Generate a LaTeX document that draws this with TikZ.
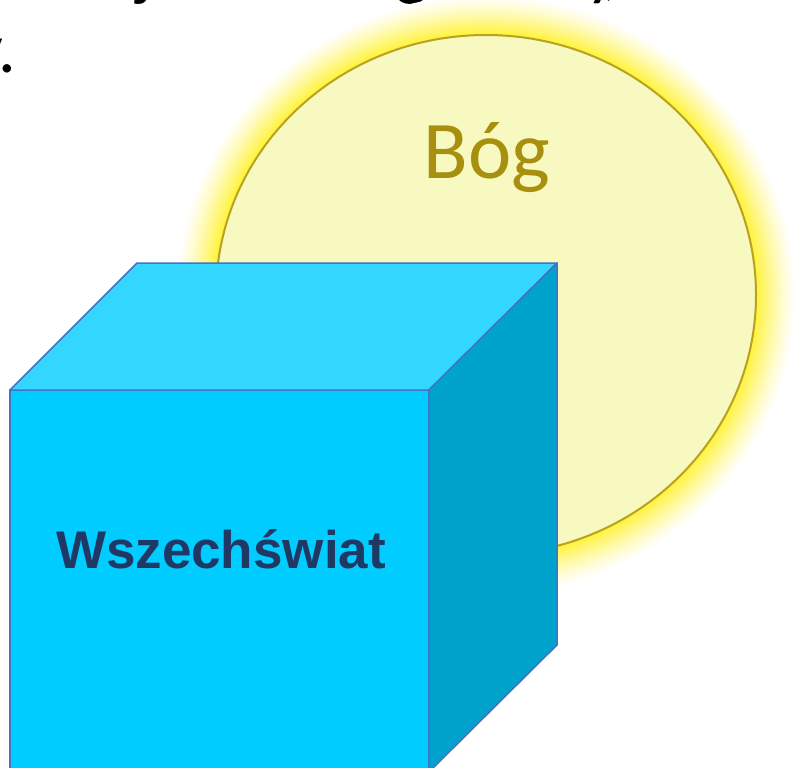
\documentclass[tikz,border=0pt]{standalone}
\usepackage{fontspec}
\setmainfont{Carlito}
\newfontfamily\arialfam{Liberation Sans}
\usetikzlibrary{shapes.geometric}
\definecolor{glowyellow}{RGB}{255,243,60}
\definecolor{godfill}{RGB}{247,249,192}
\definecolor{godborder}{RGB}{184,162,30}
\definecolor{godtext}{RGB}{168,144,14}
\definecolor{cubefront}{RGB}{0,204,255}
\definecolor{cubetop}{RGB}{51,214,255}
\definecolor{cubeside}{RGB}{0,163,204}
\definecolor{cubeedge}{RGB}{68,114,196}
\definecolor{navytext}{RGB}{32,56,100}
\tikzset{
  facestyle/.style={draw=cubeedge, line width=1.5pt, line join=round},
  fragment/.style={font=\fontsize{70}{84}\selectfont, text=black, inner sep=0pt, anchor=base west},
}
\begin{document}
\begin{tikzpicture}[x=1pt,y=-1pt]
\useasboundingbox (0,0) rectangle (796,768);
\clip (0,0) rectangle (796,768);
% cut-off text line fragments
\node[fragment] (fj) at (136,-7.5) {j};
\node[fragment] (fg) at (395,-7.5) {g};
\node[fragment] (fy) at (586,-7.5) {y};
\node[fragment] (fc) at (602,-7.5) {,};
\node[fragment] (fy2) at (-29,73) {y};
\node[fragment] (fp) at (-2,73) {.};
% glow
\foreach \d in {40,39,...,1}{
  \pgfmathsetmacro\p{100*((41-\d)/40)^1.3}
  \fill[glowyellow!\p!white] (486,295) ellipse [x radius={270pt+\d pt}, y radius={260pt+\d pt}];
}
% God
\node[ellipse, draw=godborder, fill=godfill, line width=2pt, inner sep=0pt,
      minimum width=540pt, minimum height=520pt] (god) at (486,295) {};
\node[anchor=base, inner sep=0pt, text=godtext, font=\fontsize{82}{98}\selectfont] (boglabel) at (487,178) {Bóg};
% cube
\coordinate (ftl) at (10,390);
\coordinate (ftr) at (429,390);
\coordinate (fbr) at (429,772);
\coordinate (fbl) at (10,772);
\coordinate (btl) at (137,263);
\coordinate (btr) at (557,263);
\coordinate (bbr) at (557,645);
\fill[cubefront] (ftl) -- (ftr) -- (fbr) -- (fbl) -- cycle;
\draw[facestyle] (fbl) -- (ftl) -- (ftr) -- (fbr);
\filldraw[facestyle, fill=cubetop] (ftl) -- (btl) -- (btr) -- (ftr) -- cycle;
\filldraw[facestyle, fill=cubeside] (ftr) -- (btr) -- (bbr) -- (fbr) -- cycle;
\node[anchor=base, inner sep=0pt, text=navytext, font=\arialfam\bfseries\fontsize{53}{64}\selectfont] (universe) at (221,568) {Wszechświat};
\end{tikzpicture}
\end{document}
